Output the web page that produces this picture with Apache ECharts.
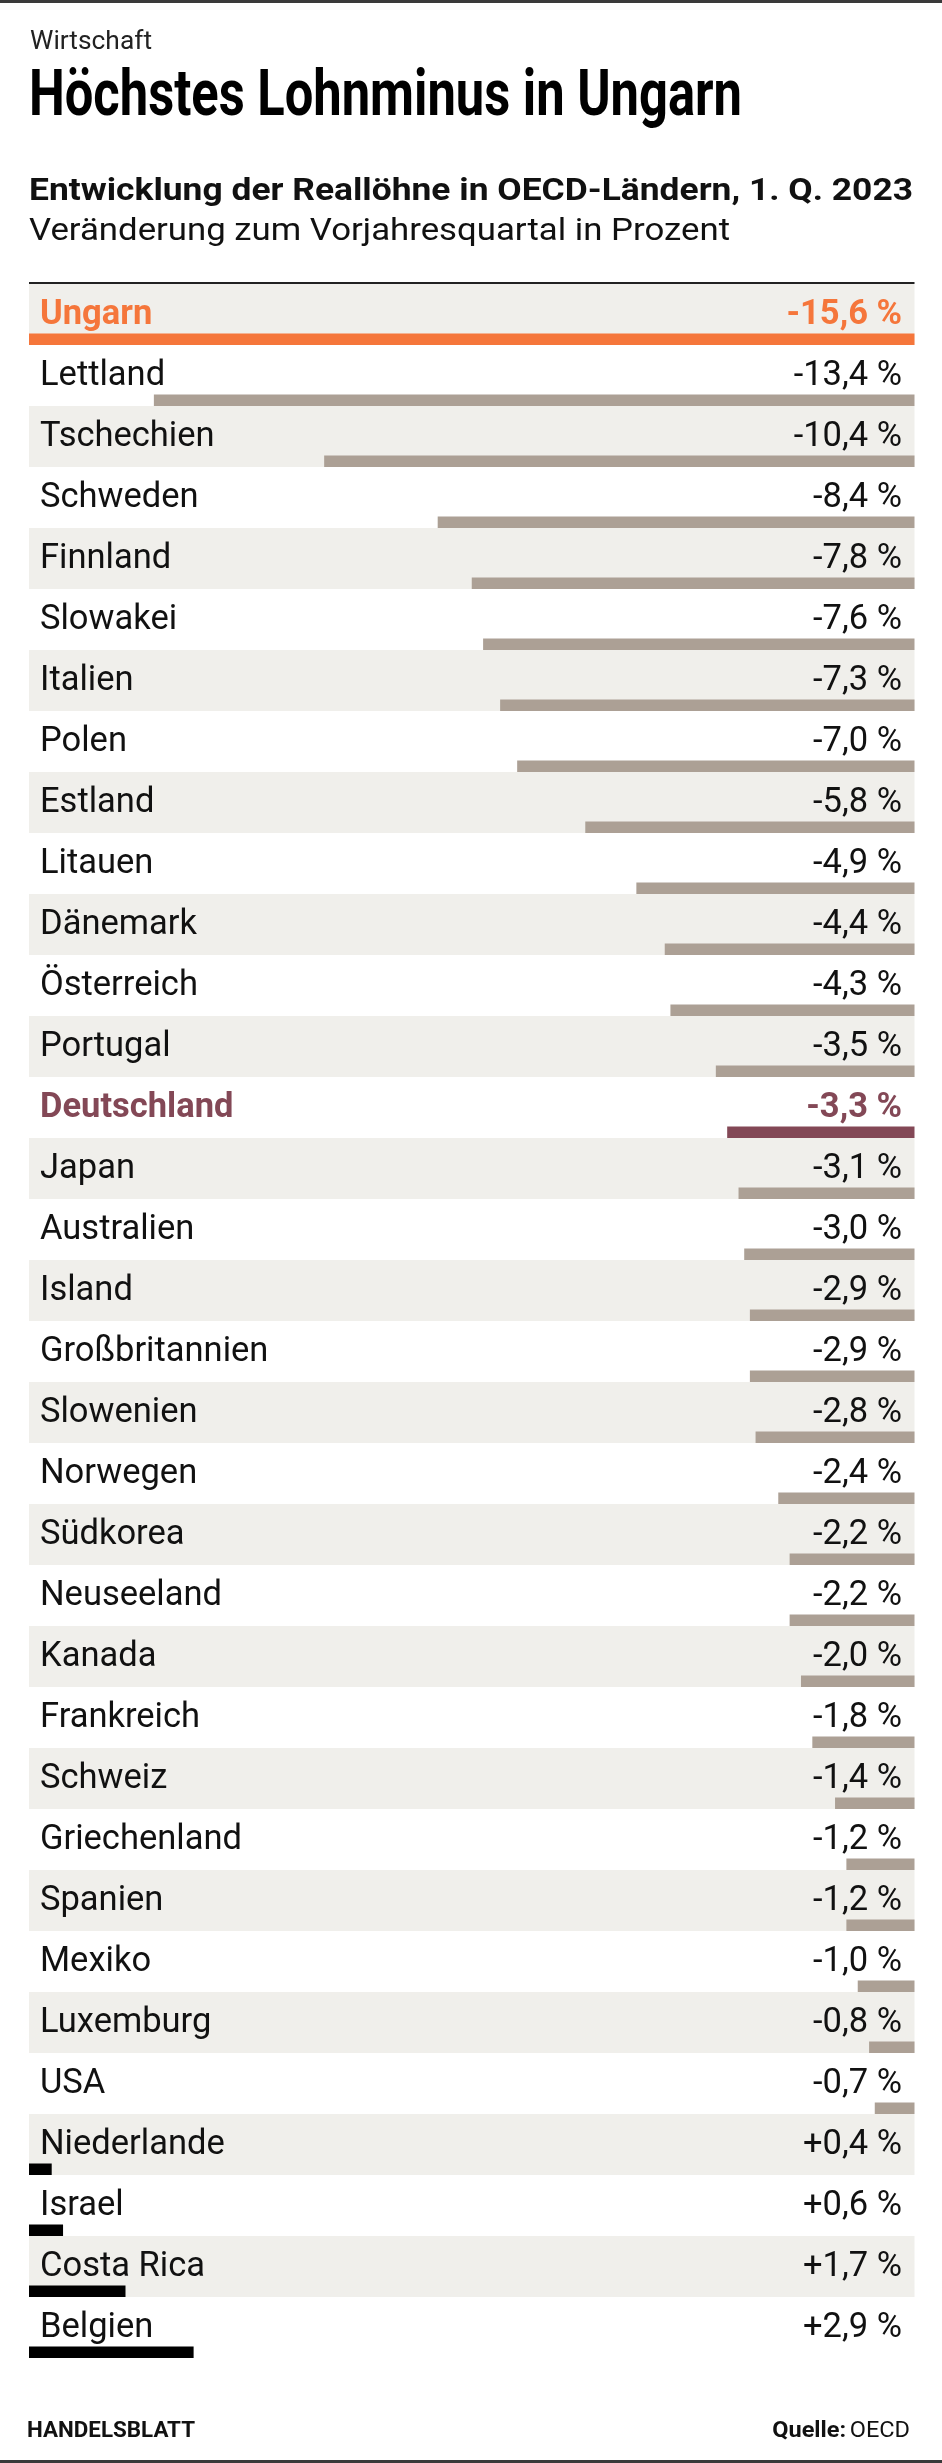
<!DOCTYPE html>
<html>
<head>
<meta charset="utf-8">
<script src="https://cdn.jsdelivr.net/npm/echarts@6/dist/echarts.min.js"></script>
<style>
html,body{margin:0;padding:0;background:#fff;}
#c{width:942px;height:2463px;}
</style>
</head>
<body>
<div id="c"></div>
<script>
var countries = ['Ungarn','Lettland','Tschechien','Schweden','Finnland','Slowakei','Italien','Polen','Estland','Litauen','Dänemark','Österreich','Portugal','Deutschland','Japan','Australien','Island','Großbritannien','Slowenien','Norwegen','Südkorea','Neuseeland','Kanada','Frankreich','Schweiz','Griechenland','Spanien','Mexiko','Luxemburg','USA','Niederlande','Israel','Costa Rica','Belgien'];
var values = [-15.6,-13.4,-10.4,-8.4,-7.8,-7.6,-7.3,-7.0,-5.8,-4.9,-4.4,-4.3,-3.5,-3.3,-3.1,-3.0,-2.9,-2.9,-2.8,-2.4,-2.2,-2.2,-2.0,-1.8,-1.4,-1.2,-1.2,-1.0,-0.8,-0.7,0.4,0.6,1.7,2.9];
var axisMax = 15.6;

var ORANGE = '#f5763b', MAROON = '#834856', GRAY = '#aca095', POS = '#000000', TEXT = '#111111', STRIPE = '#f0efeb';
var special = {'Ungarn': ORANGE, 'Deutschland': MAROON};

function fmt(v){ return (v > 0 ? '+' : '') + v.toFixed(1).replace('.', ',') + ' %'; }

var GL = 29, GR = 27.5, TOP = 284, ROW = 61, N = countries.length, H = ROW * N;
var FAM = 'Roboto, "Liberation Sans", sans-serif';
var FS = 34.5;

// text width fitting helper (horizontal scale so header texts span the same width as in the reference)
var mctx = document.createElement('canvas').getContext('2d');
function fit(font, text, target){ mctx.font = font; return target / mctx.measureText(text).width; }

function labelItem(text, name){
  var c = special[name];
  return c ? {value: text, textStyle: {color: c, fontWeight: 'bold'}} : text;
}
var nameData = countries.map(function(n){ return labelItem(n, n); });
var valueData = countries.map(function(n, i){ return labelItem(fmt(values[i]), n); });

var negData = values.map(function(v, i){
  return v < 0 ? {value: v, itemStyle: {color: special[countries[i]] || GRAY}} : '-';
});
var posData = values.map(function(v){ return v > 0 ? {value: v, itemStyle: {color: POS}} : '-'; });

var chart = echarts.init(document.getElementById('c'), null, {renderer: 'canvas', width: 942, height: 2463});

function g(top){ return {left: GL, right: GR, top: top, height: H, containLabel: false, outerBoundsMode: 'none'}; }
var hiddenX = function(gi, min, max){ return {type: 'value', gridIndex: gi, min: min, max: max, show: false}; };

var fW = '25px ' + FAM, tW = 'Wirtschaft';
var fT = 'bold 64px ' + FAM, tT = 'Höchstes Lohnminus in Ungarn';
var fS1 = 'bold 30.5px ' + FAM, tS1 = 'Entwicklung der Reallöhne in OECD-Ländern, 1. Q. 2023';
var fS2 = '30.5px ' + FAM, tS2 = 'Veränderung zum Vorjahresquartal in Prozent';
var fH = 'bold 22px ' + FAM, tH = 'HANDELSBLATT';
var fQb = 'bold 22px ' + FAM, fQr = '22px ' + FAM;
mctx.font = fQb; var wq1 = mctx.measureText('Quelle: ').width;
mctx.font = fQr; var wq2 = mctx.measureText('OECD').width;
var sQ = 140 / (wq1 + wq2);

chart.setOption({
  animation: false,
  backgroundColor: '#ffffff',
  grid: [g(TOP), g(TOP + 1), g(TOP + ROW / 2 - 5.75)],
  xAxis: [
    hiddenX(0, 0, 1),
    hiddenX(1, 0, 1),
    hiddenX(2, -axisMax, 0),
    hiddenX(2, 0, axisMax)
  ],
  yAxis: [
    {type: 'category', gridIndex: 0, inverse: true, data: countries,
     axisLine: {show: false}, axisTick: {show: false}, axisLabel: {show: false},
     splitLine: {show: false},
     splitArea: {show: true, areaStyle: {color: [STRIPE, '#ffffff']}}},
    {type: 'category', gridIndex: 1, inverse: true, position: 'left', data: nameData,
     axisLine: {show: false}, axisTick: {show: false}, splitLine: {show: false},
     axisLabel: {inside: true, margin: 11, fontFamily: FAM, fontSize: FS, color: TEXT, align: 'left'}},
    {type: 'category', gridIndex: 1, inverse: true, position: 'right', data: valueData,
     axisLine: {show: false}, axisTick: {show: false}, splitLine: {show: false},
     axisLabel: {inside: true, margin: 12.5, fontFamily: FAM, fontSize: FS, color: TEXT, align: 'right'}},
    {type: 'category', gridIndex: 2, inverse: true, data: countries, show: false}
  ],
  series: [
    {type: 'bar', xAxisIndex: 2, yAxisIndex: 3, data: negData, barWidth: 11.5, barGap: '-100%', silent: true},
    {type: 'bar', xAxisIndex: 3, yAxisIndex: 3, data: posData, barWidth: 11.5, barGap: '-100%', silent: true}
  ],
  graphic: [
    {type: 'rect', shape: {x: 0, y: 0, width: 942, height: 3}, style: {fill: '#3a3a3a'}},
    {type: 'rect', shape: {x: 0, y: 2460, width: 942, height: 3}, style: {fill: '#3a3a3a'}},
    {type: 'rect', shape: {x: GL, y: 282, width: 942 - GL - GR, height: 2}, style: {fill: '#222'}, z: 10},
    {type: 'text', x: 30, y: 43, scaleX: fit(fW, tW, 122), style: {text: tW, font: fW, fill: '#222', verticalAlign: 'middle'}},
    {type: 'text', x: 29, y: 99, scaleX: fit(fT, tT, 713), style: {text: tT, font: fT, fill: '#000', verticalAlign: 'middle'}},
    {type: 'text', x: 29, y: 192, scaleX: fit(fS1, tS1, 884), style: {text: tS1, font: fS1, fill: TEXT, verticalAlign: 'middle'}},
    {type: 'text', x: 29, y: 232, scaleX: fit(fS2, tS2, 701), style: {text: tS2, font: fS2, fill: TEXT, verticalAlign: 'middle'}},
    {type: 'text', x: 27, y: 2431, scaleX: fit(fH, tH, 168), style: {text: tH, font: fH, fill: '#111', verticalAlign: 'middle'}},
    {type: 'text', x: 910, y: 2431, scaleX: sQ, style: {text: '{b|Quelle:} {r|OECD}', rich: {b: {font: fQb, fill: '#111'}, r: {font: fQr, fill: '#111'}}, align: 'right', verticalAlign: 'middle'}}
  ]
});
</script>
</body>
</html>
